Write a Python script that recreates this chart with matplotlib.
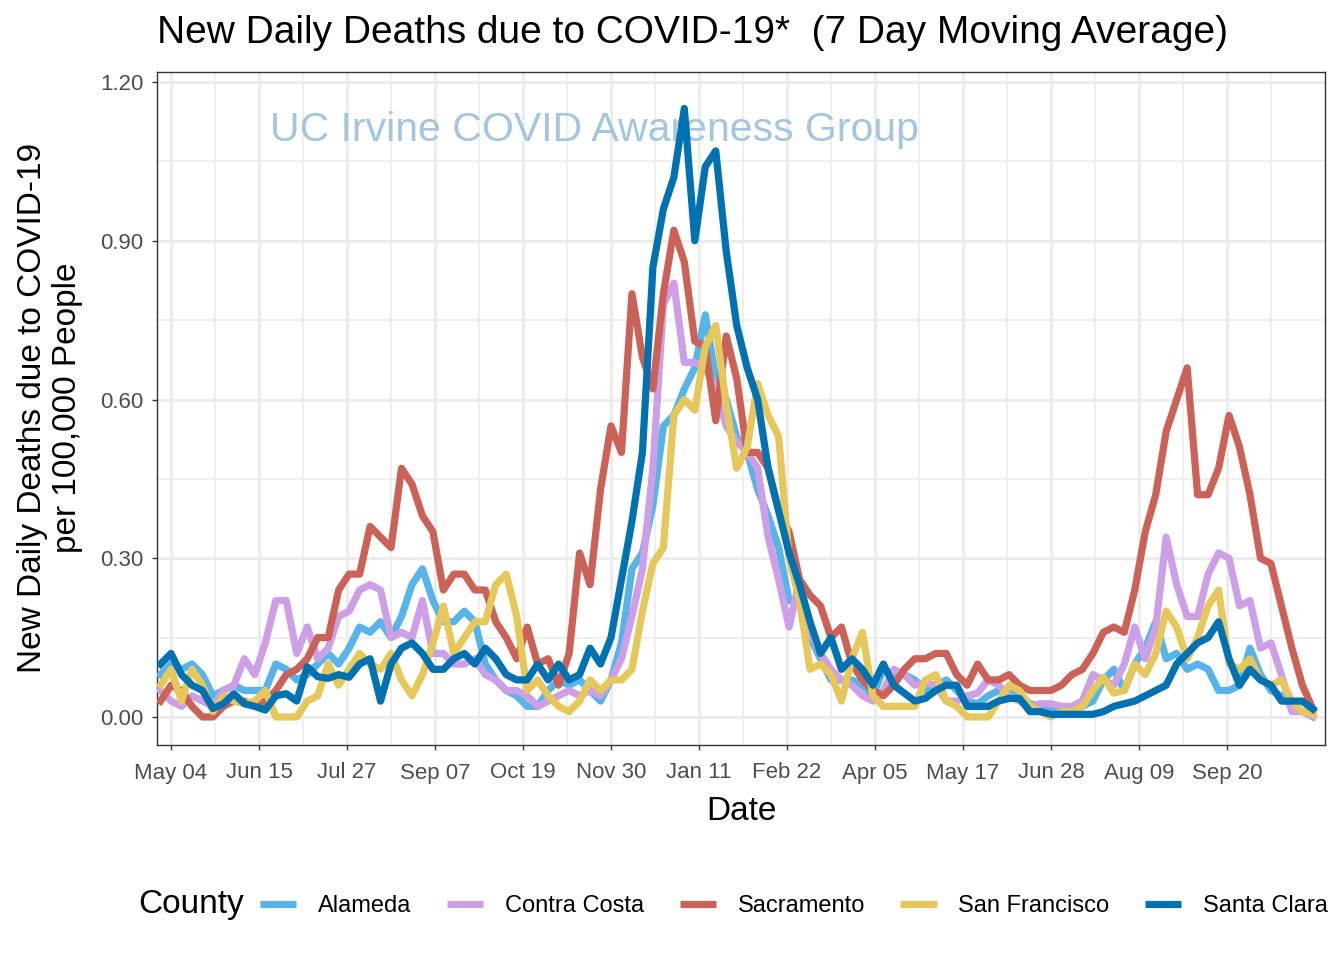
# recreate the COVID-19 deaths chart (ggplot theme_bw look)
import pandas as pd
import matplotlib
matplotlib.use('Agg')
import matplotlib.pyplot as plt
import matplotlib.dates as mdates
from matplotlib.lines import Line2D

plt.rcParams['font.family'] = ['Liberation Sans', 'DejaVu Sans']

# data: 7 day moving average, every 5 days
dates = pd.date_range('2020-04-29', periods=111, freq='5D')

alameda = [0.08, 0.10, 0.09, 0.10, 0.08, 0.04, 0.05, 0.06, 0.05, 0.05,
           0.05, 0.10, 0.09, 0.07, 0.08, 0.10, 0.12, 0.10, 0.13,
           0.17, 0.16, 0.18, 0.15, 0.19, 0.25, 0.28, 0.22, 0.18, 0.18,
           0.20, 0.18, 0.10, 0.07, 0.05, 0.04, 0.02, 0.02,
           0.05, 0.07, 0.06, 0.07, 0.05, 0.03, 0.07, 0.14, 0.28, 0.31,
           0.40, 0.55, 0.57, 0.62, 0.66, 0.76, 0.64, 0.60, 0.53, 0.50, 0.43,
           0.38, 0.32, 0.22, 0.22, 0.15, 0.11, 0.07, 0.07, 0.07, 0.06,
           0.04, 0.09, 0.08, 0.08, 0.07, 0.05,
           0.06, 0.07, 0.05, 0.03, 0.025, 0.04, 0.05, 0.05, 0.04, 0.025,
           0.02, 0.02, 0.01, 0.01, 0.02, 0.03, 0.07, 0.09,
           0.05, 0.10, 0.13, 0.18, 0.11, 0.12, 0.09, 0.10, 0.09, 0.05,
           0.05, 0.06, 0.13, 0.08, 0.05, 0.04, 0.02, 0.01, 0.01]

contra_costa = [0.05, 0.03, 0.02, 0.04, 0.03, 0.02, 0.05, 0.06, 0.11, 0.08,
                0.14, 0.22, 0.22, 0.12, 0.17, 0.11, 0.13, 0.19, 0.20,
                0.24, 0.25, 0.24, 0.15, 0.16, 0.15, 0.22, 0.12, 0.12, 0.10,
                0.10, 0.11, 0.08, 0.07, 0.05, 0.05, 0.04, 0.02,
                0.03, 0.04, 0.05, 0.04, 0.05, 0.04, 0.07, 0.11, 0.19, 0.28,
                0.47, 0.78, 0.82, 0.67, 0.67, 0.66, 0.62, 0.55, 0.52, 0.50, 0.47,
                0.34, 0.26, 0.17, 0.26, 0.16, 0.12, 0.09, 0.07, 0.06, 0.04,
                0.03, 0.05, 0.09, 0.08, 0.06, 0.065,
                0.06, 0.03, 0.03, 0.04, 0.045, 0.07, 0.06, 0.04, 0.03, 0.02,
                0.025, 0.025, 0.02, 0.02, 0.03, 0.08, 0.07, 0.06,
                0.10, 0.17, 0.11, 0.17, 0.34, 0.25, 0.19, 0.19, 0.27, 0.31,
                0.30, 0.21, 0.22, 0.13, 0.14, 0.08, 0.01, 0.01, 0.0]

sacramento = [0.03, 0.06, 0.05, 0.02, 0.00, 0.00, 0.02, 0.03, 0.03, 0.02,
              0.03, 0.05, 0.08, 0.09, 0.11, 0.15, 0.15, 0.24, 0.27,
              0.27, 0.36, 0.34, 0.32, 0.47, 0.44, 0.38, 0.35, 0.24, 0.27,
              0.27, 0.24, 0.24, 0.18, 0.15, 0.11, 0.17, 0.10,
              0.11, 0.06, 0.12, 0.31, 0.25, 0.43, 0.55, 0.50, 0.80, 0.68,
              0.62, 0.80, 0.92, 0.86, 0.71, 0.70, 0.56, 0.72, 0.64, 0.50, 0.50,
              0.47, 0.39, 0.35, 0.26, 0.23, 0.21, 0.15, 0.17, 0.10, 0.07,
              0.05, 0.04, 0.06, 0.09, 0.11, 0.11,
              0.12, 0.12, 0.08, 0.06, 0.10, 0.07, 0.07, 0.08, 0.06, 0.05,
              0.05, 0.05, 0.06, 0.08, 0.09, 0.12, 0.16, 0.17,
              0.16, 0.24, 0.35, 0.42, 0.54, 0.60, 0.66, 0.42, 0.42, 0.47,
              0.57, 0.51, 0.42, 0.30, 0.29, 0.21, 0.13, 0.06, 0.015]

san_francisco = [0.06, 0.09, 0.03, 0.09, 0.06, 0.01, 0.04, 0.03, 0.025, 0.03,
                 0.05, 0.00, 0.00, 0.00, 0.03, 0.04, 0.10, 0.06, 0.09,
                 0.12, 0.10, 0.09, 0.12, 0.07, 0.04, 0.08, 0.14, 0.21, 0.12,
                 0.15, 0.18, 0.18, 0.25, 0.27, 0.19, 0.05, 0.07,
                 0.04, 0.02, 0.01, 0.03, 0.07, 0.05, 0.07, 0.07, 0.09, 0.20,
                 0.29, 0.32, 0.57, 0.60, 0.58, 0.70, 0.74, 0.59, 0.47, 0.51, 0.63,
                 0.57, 0.53, 0.30, 0.22, 0.09, 0.10, 0.08, 0.03, 0.11, 0.16,
                 0.04, 0.02, 0.02, 0.02, 0.02, 0.07,
                 0.08, 0.03, 0.02, 0.00, 0.00, 0.00, 0.03, 0.06, 0.05, 0.02,
                 0.01, 0.00, 0.01, 0.01, 0.02, 0.05, 0.075, 0.045,
                 0.05, 0.10, 0.08, 0.12, 0.20, 0.17, 0.11, 0.15, 0.21, 0.24,
                 0.10, 0.09, 0.11, 0.07, 0.06, 0.07, 0.03, 0.01, 0.005]

santa_clara = [0.10, 0.12, 0.08, 0.06, 0.05, 0.016, 0.025, 0.044, 0.025, 0.02,
               0.013, 0.04, 0.044, 0.03, 0.095, 0.076, 0.073, 0.08, 0.075,
               0.10, 0.11, 0.03, 0.10, 0.13, 0.14, 0.12, 0.09, 0.09, 0.11,
               0.12, 0.10, 0.13, 0.11, 0.08, 0.07, 0.07, 0.10,
               0.07, 0.10, 0.07, 0.08, 0.13, 0.10, 0.15, 0.26, 0.37, 0.50,
               0.85, 0.96, 1.02, 1.15, 0.90, 1.04, 1.07, 0.88, 0.74, 0.66, 0.60,
               0.47, 0.39, 0.31, 0.25, 0.18, 0.12, 0.15, 0.09, 0.11, 0.09,
               0.06, 0.10, 0.06, 0.045, 0.03, 0.035,
               0.05, 0.06, 0.06, 0.02, 0.02, 0.02, 0.03, 0.035, 0.035, 0.01,
               0.01, 0.005, 0.005, 0.005, 0.005, 0.005, 0.01, 0.02,
               0.025, 0.03, 0.04, 0.05, 0.06, 0.10, 0.12, 0.14, 0.15, 0.18,
               0.11, 0.06, 0.09, 0.07, 0.06, 0.03, 0.03, 0.03, 0.015]

counties = ['Alameda', 'Contra Costa', 'Sacramento', 'San Francisco', 'Santa Clara']
series = [alameda, contra_costa, sacramento, san_francisco, santa_clara]
colors = ['#56B4E9', '#CC9FE6', '#CC6158', '#E6C85A', '#0072B2']

tick_dates = pd.date_range('2020-05-04', periods=13, freq='42D')
minor_dates = pd.date_range('2020-05-25', periods=13, freq='42D')

# figure
fig = plt.figure(figsize=(13.44, 9.6), dpi=100)
ax = fig.add_axes([157 / 1344, 215 / 960, 1168 / 1344, 673 / 960])

for name, vals, col in zip(counties, series, colors):
    ax.plot(dates, vals, color=col, lw=5.2, solid_joinstyle='round', label=name, zorder=3)

x0 = mdates.date2num(pd.Timestamp('2020-05-04'))
ax.set_xlim(x0 - 6.7, x0 + 550.8)
ax.set_ylim(-0.053, 1.219)

ax.set_xticks(tick_dates)
ax.set_xticks(minor_dates, minor=True)
ax.xaxis.set_major_formatter(mdates.DateFormatter('%b %d'))
ax.set_yticks([0, 0.3, 0.6, 0.9, 1.2])
ax.set_yticks([0.15, 0.45, 0.75, 1.05], minor=True)
ax.set_yticklabels(['0.00', '0.30', '0.60', '0.90', '1.20'])

ax.grid(which='major', color='#EBEBEB', lw=2.0, zorder=0)
ax.grid(which='minor', color='#EBEBEB', lw=1.1, zorder=0)
ax.set_axisbelow(True)
ax.tick_params(which='major', length=3.6, width=1, color='#333333',
               labelsize=16, labelcolor='#4D4D4D')
ax.tick_params(axis='x', pad=9)
ax.tick_params(axis='y', pad=6)
ax.tick_params(which='minor', length=0)
for sp in ax.spines.values():
    sp.set_color('#333333')
    sp.set_linewidth(1.0)

# watermark
ax.text(0.097, 0.914, 'UC Irvine COVID Awareness Group', transform=ax.transAxes,
        fontsize=29.5, color='#A3C5DE', ha='left', va='center', zorder=1)

# titles
fig.text(157 / 1344, 1 - 33 / 960, 'New Daily Deaths due to COVID-19*  (7 Day Moving Average)',
         fontsize=28, ha='left', va='center')
fig.text(50 / 1344, 1 - 408 / 960, 'New Daily Deaths due to COVID-19\nper 100,000 People',
         fontsize=24, rotation=90, ha='center', va='center', multialignment='center')
fig.text(741 / 1344, 1 - 812 / 960, 'Date', fontsize=24, ha='center', va='center')

# legend
fig.text(138 / 1344, 1 - 905 / 960, 'County', fontsize=24, ha='left', va='center')
handles = [Line2D([], [], color=c, lw=5.2, solid_capstyle='butt') for c in colors]
fig.legend(handles, counties, loc='center left', bbox_to_anchor=(260 / 1344, 1 - 906 / 960),
           ncol=5, frameon=False, fontsize=17, handlelength=1.53, handletextpad=0.93,
           columnspacing=1.5, borderpad=0, borderaxespad=0)

plt.savefig('out.png', dpi=100)
